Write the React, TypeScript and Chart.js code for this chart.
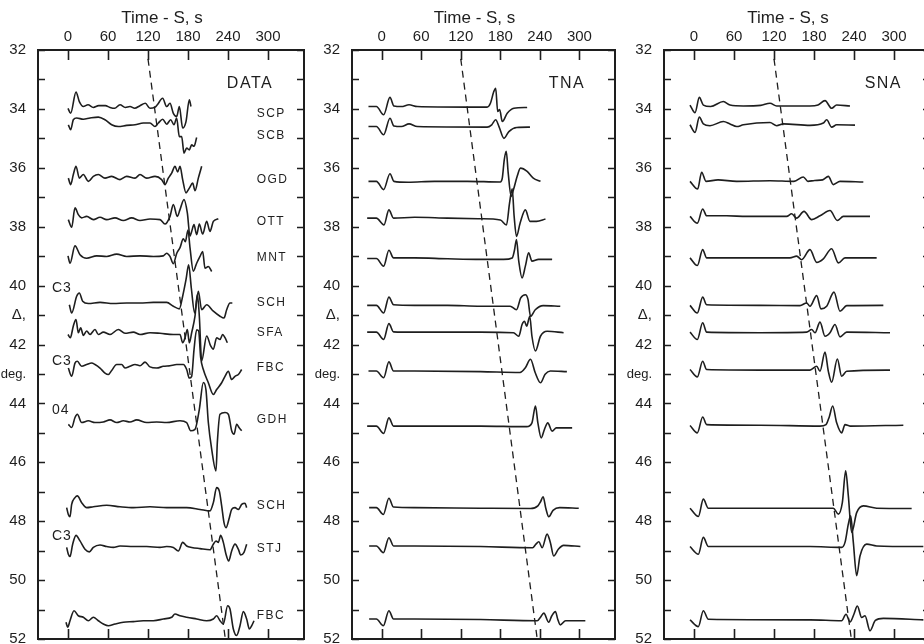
import React, { useEffect, useRef } from 'react';
import { Chart, registerables } from 'chart.js';

Chart.register(...registerables);

const INK = '#1e1e1e';
const FONT = "'Liberation Sans', Arial, sans-serif";

// ---------- axes ----------
const timeTicks = [0, 60, 120, 180, 240, 300];
const distanceTicks = [32, 33, 34, 35, 36, 37, 38, 39, 40, 41, 42, 43, 44, 45, 46, 47, 48, 49, 50, 51, 52];
const distanceWordLabels: Record<number, string> = { 41: 'Δ,', 43: 'deg.' };
const timeAxisTitle = 'Time - S, s';
const timeMin = -45;
const timeMax = 354;
const distMin = 32;
const distMax = 52;

// ---------- labels ----------
const panelNames = ['DATA', 'TNA', 'SNA'];
const stationNames = ['SCP', 'SCB', 'OGD', 'OTT', 'MNT', 'SCH', 'SFA', 'FBC', 'GDH', 'SCH', 'STJ', 'FBC'];
const stationLabelDeg = [34.17, 34.92, 36.41, 37.83, 39.05, 40.58, 41.59, 42.78, 44.54, 47.49, 48.92, 51.22];
const componentNames = ['C3', 'C3', '04', 'C3'];
const componentDeg = [40.07, 42.58, 44.24, 48.5];

// dashed S-phase reference line: [time, distance]
const sPhaseLine = [[120, 32.3], [236, 52]];

// ---------- baselines (epicentral distance, deg) ----------
const dataBaselines = [33.92, 34.54, 36.29, 37.76, 39.01, 40.59, 41.6, 42.74, 44.65, 47.54, 48.86, 51.32];
const tnaBaselines = [33.92, 34.6, 36.46, 37.71, 39.08, 40.67, 41.58, 42.9, 44.77, 47.54, 48.84, 51.32];
const snaBaselines = [33.9, 34.54, 36.46, 37.65, 39.06, 40.67, 41.58, 42.85, 44.75, 47.56, 48.86, 51.35];

// ---------- traces: [time s, amplitude deg (up positive)] ----------
const dataSCP = [[0,-0.06],[4,-0.23],[12,0.49],[17,0.17],[23,0],[30,0.06],[38,-0.03],[46,0.03],[56,0.03],[63,-0.03],[70,-0.06],[78,0.06],[86,-0.03],[93,0],[100,-0.06],[108,0.03],[116,0.11],[123,-0.06],[130,-0.03],[134,0.06],[142,0.28],[148,0],[153,0.11],[158,-0.23],[163,-0.34],[167,0],[172,-0.73],[177,-0.51],[182,0.23],[184.5,0]];
const dataSCB = [[0.5,0],[4,-0.17],[8,0.17],[13,0.23],[23,0.19],[33,0.23],[45.5,0.26],[55.5,0.17],[65.5,0],[75.5,-0.06],[88,-0.02],[100.5,0],[113,0.06],[123,0.06],[130.5,-0.06],[135.5,0.06],[142,0.19],[148,0.02],[154,0.17],[159,0],[163,0.23],[167,-0.4],[170.5,-0.4],[174,-0.96],[178,-0.79],[182,-0.85],[185.5,-0.68],[189,-0.73],[193,-0.43]];
const dataOGD = [[0.5,-0.06],[4,-0.28],[8,0.06],[12,0.34],[17,-0.06],[23,0.06],[30.5,-0.17],[38,0],[45.5,0.06],[55.5,-0.06],[65.5,0],[78,-0.11],[88,0],[100.5,-0.06],[108,0.06],[118,-0.06],[130.5,0],[140.5,-0.11],[145.5,-0.28],[150.5,-0.06],[155.5,0.11],[160.5,0.34],[164.5,0.15],[168,0.34],[172,-0.11],[177,-0.56],[182,-0.4],[187,-0.23],[190.5,-0.49],[195.5,-0.06],[200.5,0.34]];
const dataOTT = [[0.5,0],[5.5,-0.26],[10.5,0.4],[15.5,0.17],[20.5,0.06],[28,0.11],[38,0],[48,0.08],[58,0],[70.5,0.06],[83,-0.03],[95.5,0.06],[108,-0.03],[123,0.02],[138,0],[145.5,-0.15],[153,0.11],[158,0.51],[164,0.11],[168,0.34],[174,0.68],[179,0.23],[183,-0.56],[185.5,-0.4],[189,-0.17],[193,-0.51],[197,-0.15],[202,-0.49],[208,-0.06],[213,-0.4],[218,-0.06],[225.5,0.03]];
const dataMNT = [[0,0.02],[3,-0.23],[10.5,0.36],[18,0.06],[28,-0.06],[43,0.02],[58,0],[73,0.08],[88,0],[108,0.02],[128,0],[143,0.02],[148,0.11],[153,0],[158,-0.25],[163,0.1],[168,0.3],[173,0.6],[176,0.5],[180,0.9],[183,0.3],[188,-0.5],[193,-0.23],[198,0],[202,0.17],[205.5,-0.4],[210.5,-0.34],[215.5,-0.51]];
const dataSCH1 = [[2,-0.06],[5.5,-0.34],[13,0.23],[17,0.34],[22,0.06],[30.5,-0.02],[48,0.02],[68,-0.02],[88,0],[108,0],[128,0.02],[148,0.02],[158,-0.11],[167,-0.2],[172,0.23],[177,0.79],[181,1.3],[185,0.5],[190,-0.34],[195.5,0.4],[200.5,-0.23],[208,-0.06],[218,-0.28],[228,-0.45],[234,-0.51],[238,-0.23],[243,0],[246.5,0]];
const dataSFA = [[0,-0.06],[3.5,-0.17],[8,0.23],[12,0.45],[15.5,0],[19,0.17],[23,-0.09],[28,0.06],[33,-0.06],[40.5,0.11],[45.5,-0.06],[53,0.02],[63,-0.06],[75.5,0.11],[85.5,-0.02],[98,0.02],[108,-0.06],[123,0],[138,-0.02],[158,-0.06],[168,-0.06],[172,-0.34],[175.5,-0.17],[179,0.11],[182,-0.34],[185.5,0],[190.5,0.56],[194,1.3],[197,0.56],[200.5,-0.96],[208,-0.11],[214,-0.45],[218,-0.56],[223,-0.17],[228,-0.23],[232,-0.06],[235.5,-0.17],[239,-0.34]];
const dataFBC1 = [[0.5,-0.06],[5.5,-0.34],[10.5,0.11],[14,0.17],[20.5,0],[28,0.06],[35.5,0.11],[40.5,0.06],[48,-0.06],[55.5,-0.23],[60.5,-0.28],[65.5,-0.14],[73,0.06],[80.5,0.06],[85.5,-0.06],[93,0],[100.5,0.06],[108,0.02],[115.5,0.14],[123,-0.02],[133,-0.06],[143,0],[153,0.02],[163,0.06],[173,0.06],[178,-0.11],[182,-0.4],[185.5,-0.34],[189,0.56],[193,1.24],[196,1.2],[199,0.3],[203,-0.11],[210.5,-0.56],[218,-0.96],[223,-0.79],[230.5,-0.56],[235.5,-0.34],[240.5,-0.17],[245.5,-0.45],[250.5,-0.34],[255.5,-0.28],[260.5,-0.11]];
const dataGDH = [[0.5,-0.06],[5.5,-0.17],[10.5,0.17],[14,0.28],[20.5,0],[30.5,0.06],[40.5,0],[53,0.02],[63,0.09],[73,0],[83,0.06],[93,0.02],[103,0.09],[118,0],[133,0.02],[148,0],[168,0.06],[178,0],[184,-0.28],[190.5,-0.23],[197,0.45],[203,1.36],[207,1.1],[210.5,0],[215.5,-0.9],[222,-1.64],[224,-0.68],[228,0.28],[235.5,0.34],[240.5,0.28],[245.5,-0.28],[249,-0.4],[253,-0.06],[256.5,-0.17],[260.5,-0.28]];
const dataSCH2 = [[-2,0],[0.5,-0.23],[3,-0.31],[5.5,0.11],[10.5,0.34],[14,0.4],[20.5,0.17],[28,0],[38,0.03],[58,0.08],[78,0.03],[98,0],[123,0.03],[148,0],[178,0],[198,-0.06],[213,-0.11],[218,0.17],[223,0.68],[227,0.56],[230.5,0.06],[234,-0.51],[237,-0.68],[242,-0.34],[245.5,-0.06],[250.5,0],[255.5,-0.06],[260.5,0.11],[265.5,0.15],[268,0]];
const dataSTJ = [[-2,-0.03],[0.5,-0.26],[3,-0.34],[7,0.08],[12,0.38],[18,0.19],[25.5,-0.09],[32,-0.18],[38,-0.03],[48,0.05],[58,0],[68,-0.03],[78,0.02],[98,0],[118,0],[138,-0.03],[148,0],[158,-0.03],[165.5,-0.15],[172,0.14],[178,0.02],[185.5,-0.03],[198,-0.07],[213,-0.11],[218,0.08],[222,0.19],[225.5,0.14],[229,0.38],[233,0.14],[237,-0.26],[241,-0.49],[245.5,-0.15],[250.5,0.08],[255.5,-0.09],[259,-0.29],[264,-0.2],[268,0.08]];
const dataFBC2 = [[-3,-0.11],[-0.5,-0.28],[3,-0.06],[9,0.28],[15.5,0.11],[23,0.06],[30.5,-0.06],[38,0.06],[45.5,-0.06],[53,-0.17],[60.5,-0.23],[70.5,-0.17],[83,-0.11],[98,-0.09],[113,-0.06],[128,-0.06],[143,0],[155.5,0.06],[160.5,0.17],[168,0.11],[178,0.06],[193,0],[208,-0.06],[218,0],[223,0.11],[228,-0.06],[233,-0.17],[239.5,0.45],[243,0.34],[248,-0.34],[253,-0.56],[258,-0.23],[263,0.25],[268,0],[272,-0.34],[275.5,-0.23],[279,-0.06]];

const tna1 = [[-20,0],[-8,0],[3,-0.28],[12.6,0.31],[18.6,0.02],[30,0],[41.5,0.06],[54,0],[129,-0.02],[160,-0.02],[165,0.11],[170,0.5],[173,0.62],[176,-0.17],[179,-0.1],[183,-0.51],[190.5,-0.23],[200.6,-0.06],[220.7,-0.03]];
const tna2 = [[-20,0],[-8,0],[3,-0.28],[12.6,0.28],[18.6,0.02],[30,0],[41.5,0.09],[54,0],[160,-0.02],[167,0.06],[173,0.23],[178,0],[185.5,-0.4],[193,-0.17],[205,-0.03],[225,-0.02]];
const tna3 = [[-20,0],[-8,0],[3,-0.28],[12.6,0.26],[18.6,0],[40,-0.03],[80,0],[130,0],[180,-0.02],[183,0.11],[186,0.73],[189,1.02],[192,0.28],[196.5,-0.51],[200,-0.28],[205.6,0.17],[210.6,0.45],[220.7,0.34],[230,0.11],[241,0]];
const tna4 = [[-22,0],[-8,0],[3.5,-0.23],[11,0.28],[18,0],[50,0.03],[100,0],[150,-0.02],[180,-0.06],[189.4,-0.23],[194,0.51],[198,1.0],[201,0.06],[204.5,-0.62],[210,-0.17],[218,0.28],[225,-0.11],[235,-0.11],[248.5,-0.03]];
const tna5 = [[-22,0],[-8,0],[3,-0.26],[11,0.28],[18,0.02],[50,0.02],[100,-0.01],[150,-0.03],[185,-0.03],[198,0.02],[201.5,0.28],[204.5,0.64],[208,-0.09],[213,-0.66],[218,-0.26],[223,0.19],[228,-0.09],[238,-0.03],[258.6,-0.03]];
const tna6 = [[-22,0],[-8,0],[3,-0.26],[11,0.28],[18,0.02],[50,0],[100,0],[150,-0.03],[195,-0.03],[204.5,-0.15],[211,0.25],[218,0.36],[222,0.2],[225.8,-0.37],[233,-0.15],[245,-0.01],[271,-0.03]];
const tna7 = [[-22,0],[-8,0],[3,-0.25],[11,0.29],[18,0.01],[50,0],[150,0],[200,-0.02],[208,-0.14],[213,0.26],[216.7,0.37],[220,0.2],[224.7,0.54],[228,-0.14],[233.3,-0.64],[240.9,-0.14],[251,0.03],[276,-0.02]];
const tna8 = [[-20,0],[-8,0],[3,-0.23],[11,0.31],[18,0],[50,0],[150,-0.02],[210,-0.05],[218,0.11],[225.8,0.4],[233,-0.06],[241,-0.4],[248,-0.11],[256,0],[281,-0.02]];
const tna9 = [[-22,0],[-8,0],[3,-0.25],[11,0.28],[18,0],[50,0],[150,0],[220,-0.02],[228,0.11],[233.3,0.68],[237,0.11],[242,-0.4],[247,-0.11],[252,0.11],[258.6,-0.17],[265,-0.06],[289,-0.06]];
const tna10 = [[-19,0],[-8,0],[2.5,-0.23],[11,0.32],[18,0.02],[50,0],[150,-0.02],[226,-0.03],[237,0.06],[241,0.2],[245,0.37],[249,-0.02],[253.5,-0.31],[260,-0.09],[270,0],[299,-0.02]];
const tna11 = [[-19,0],[-8,0],[2.5,-0.23],[11,0.28],[18,0],[50,0],[150,-0.02],[229,-0.06],[234,0.06],[238.4,0.14],[243.5,-0.06],[251,0.4],[256,0.11],[261,-0.34],[268,-0.11],[276,0.02],[301.5,-0.02]];
const tna12 = [[-19,0],[-8,0],[2.5,-0.23],[11,0.28],[18,0],[50,0],[150,-0.02],[236,-0.06],[241,0.06],[246,0.2],[253.5,-0.11],[258,0.1],[263.6,0.25],[267,0],[271,-0.2],[279,-0.06],[309,-0.06]];

const sna1 = [[-6,0.03],[1.5,-0.23],[8,0.29],[14,0.03],[25,-0.02],[44,0.15],[54,0.03],[74,0],[100,0.02],[114,0.09],[124,0],[174,0],[186,0.03],[196.5,0.18],[206.5,-0.08],[214,0.03],[234,0]];
const sna2 = [[-6,0],[1.5,-0.26],[8,0.26],[14,0.03],[24,-0.03],[44,0.11],[54,0.03],[64,-0.06],[74,0],[114,0.08],[124,-0.03],[134,0.03],[174,-0.02],[194,0.06],[199,0.17],[206.5,-0.08],[214,0],[241.5,-0.01]];
const sna3 = [[-6,0],[5.5,-0.26],[11.5,0.31],[18,0],[36,0.05],[64,0],[114,0.02],[150,0],[164,0.15],[171,0],[181,0.03],[193,0.05],[201.5,0.17],[209,-0.11],[219,0],[254,-0.02]];
const sna4 = [[-6,0],[5,-0.23],[13,0.25],[19,0.02],[49,0.02],[79,0],[139,0],[146.5,0.09],[154,-0.06],[165,0.17],[176.5,-0.11],[189,0.02],[204,0.2],[215,-0.14],[224,0],[264,0]];
const sna5 = [[-6,0],[5,-0.26],[13,0.28],[19,0],[74,0],[144,0],[154,0.06],[161.5,-0.06],[174,0.28],[184,-0.15],[194,-0.03],[206.5,0.31],[216.5,-0.17],[226.5,0],[274,0]];
const sna6 = [[-6,0],[5,-0.26],[13,0.28],[19,0.02],[99,0],[159,-0.01],[169,0.08],[174,-0.03],[184,0.33],[190.5,-0.12],[199,-0.03],[210,0.45],[219,-0.2],[229,-0.01],[284,0]];
const sna7 = [[-6,0],[5,-0.25],[13,0.32],[19,0],[99,-0.02],[169,0],[176.5,0.09],[181.5,-0.02],[189,0.34],[196.5,-0.14],[204,-0.02],[211.5,0.26],[219,-0.16],[229,0],[294,-0.02]];
const sna8 = [[-6,0],[5,-0.25],[13,0.28],[19,0],[99,-0.02],[174,-0.02],[184,0.11],[189,-0.06],[196.5,0.59],[201.5,-0.06],[206.5,-0.43],[215,0.36],[221.5,-0.23],[229,-0.06],[294,-0.02]];
const sna9 = [[-6,0],[5,-0.25],[13,0.29],[19,0.03],[99,0.01],[189,-0.02],[198,0.03],[203,0.3],[208,0.66],[214,0.09],[221.5,-0.25],[226.5,0.03],[234,-0.02],[314,0.01]];
const sna10 = [[-6,0],[6.5,-0.28],[14,0.31],[21.5,0],[74,0],[209,0],[216.5,-0.2],[222.5,0.19],[227.5,1.27],[231.5,0.42],[236.5,-0.82],[244,-0.15],[254,0.08],[274,0],[326.5,-0.01]];
const sna11 = [[-6,0],[6.5,-0.26],[14,0.31],[21.5,0],[174,0],[221.5,-0.03],[226.5,0.14],[231.5,0.76],[235,1.04],[239,0.14],[244,-0.99],[249,-0.32],[259,0.08],[274,0.02],[344,0]];
const sna12 = [[-6,0],[6.5,-0.23],[14,0.31],[21.5,0.02],[174,0],[221.5,-0.03],[228,0.19],[234,-0.07],[240,0.2],[245,0.47],[251.5,0.08],[256.5,0.14],[264,-0.37],[272,-0.02],[284,0.05],[344,0]];

// ---------- layout (pixels; not data) ----------
const AXIS_W = 38;
const AXIS_H = 50;
const PAD_R = 16;
const PAD_B = 20;
const CANVAS_H = 660;
const TITLE_Y = 18;
const TITLE_SHIFT = -6;
const panelNameTime = [273, 281, 284];
const panelNameDeg = 33.13;
const stationLabelTime = 283;
const componentLabelTime = -24;

const panels = [
  { traces: [dataSCP, dataSCB, dataOGD, dataOTT, dataMNT, dataSCH1, dataSFA, dataFBC1, dataGDH, dataSCH2, dataSTJ, dataFBC2], baselines: dataBaselines, plotLeft: 38, plotWidth: 266, labelled: true },
  { traces: [tna1, tna2, tna3, tna4, tna5, tna6, tna7, tna8, tna9, tna10, tna11, tna12], baselines: tnaBaselines, plotLeft: 352, plotWidth: 263, labelled: false },
  { traces: [sna1, sna2, sna3, sna4, sna5, sna6, sna7, sna8, sna9, sna10, sna11, sna12], baselines: snaBaselines, plotLeft: 664, plotWidth: 266, labelled: false },
];

function makeFramePlugin(panelIndex: number, labelled: boolean) {
  return {
    id: 'frameAndLabels' + panelIndex,
    afterDatasetsDraw(chart: any) {
      const { ctx, chartArea } = chart;
      const { left, right, top, bottom } = chartArea;
      const xs = chart.scales.x;
      const ys = chart.scales.y;
      ctx.save();
      ctx.strokeStyle = INK;
      ctx.lineWidth = 2;
      ctx.strokeRect(left, top, right - left, bottom - top);
      ctx.lineWidth = 1.6;
      ctx.beginPath();
      xs.ticks.forEach((t: any) => {
        const px = Math.round(xs.getPixelForValue(t.value)) + 0.5;
        ctx.moveTo(px, top); ctx.lineTo(px, top + 10);
        ctx.moveTo(px, bottom); ctx.lineTo(px, bottom - 10);
      });
      ys.ticks.forEach((t: any) => {
        const py = Math.round(ys.getPixelForValue(t.value)) + 0.5;
        ctx.moveTo(left, py); ctx.lineTo(left + 7, py);
        ctx.moveTo(right, py); ctx.lineTo(right - 7, py);
      });
      ctx.stroke();

      ctx.fillStyle = INK;
      ctx.textBaseline = 'middle';
      ctx.textAlign = 'center';

      // axis title centred over the labelled tick range
      ctx.font = `17px ${FONT}`;
      const firstPx = xs.getPixelForValue(timeTicks[0]);
      const lastPx = xs.getPixelForValue(timeTicks[timeTicks.length - 1]);
      ctx.fillText(timeAxisTitle, (firstPx + lastPx) / 2 + TITLE_SHIFT, TITLE_Y);

      ctx.font = `16px ${FONT}`;
      (ctx as any).letterSpacing = '1.5px';
      ctx.fillText(panelNames[panelIndex], xs.getPixelForValue(panelNameTime[panelIndex]), ys.getPixelForValue(panelNameDeg));

      if (labelled) {
        ctx.textAlign = 'left';
        ctx.font = `12px ${FONT}`;
        (ctx as any).letterSpacing = '1.5px';
        stationNames.forEach((s, i) => {
          ctx.fillText(s, xs.getPixelForValue(stationLabelTime), ys.getPixelForValue(stationLabelDeg[i]));
        });
        ctx.font = `14px ${FONT}`;
        (ctx as any).letterSpacing = '1px';
        componentNames.forEach((c, i) => {
          ctx.fillText(c, xs.getPixelForValue(componentLabelTime), ys.getPixelForValue(componentDeg[i]));
        });
      }
      ctx.restore();
    },
  };
}

function Panel({ index }: { index: number }) {
  const ref = useRef<HTMLCanvasElement | null>(null);
  const p = panels[index];
  const canvasW = AXIS_W + p.plotWidth + PAD_R;
  const canvasLeft = p.plotLeft - AXIS_W;

  useEffect(() => {
    if (!ref.current) return;
    const datasets: any[] = p.traces.map((tr, i) => ({
      data: tr.map(([t, a]) => ({ x: t, y: p.baselines[i] - a })),
      borderColor: INK,
      borderWidth: 1.6,
      pointRadius: 0,
      fill: false,
      cubicInterpolationMode: 'monotone',
    }));
    datasets.push({
      data: sPhaseLine.map(([t, d]) => ({ x: t, y: d })),
      borderColor: INK,
      borderWidth: 1.3,
      borderDash: [7, 5],
      pointRadius: 0,
      fill: false,
    });

    const chart = new Chart(ref.current, {
      type: 'line',
      data: { datasets },
      options: {
        responsive: false,
        animation: false,
        devicePixelRatio: 1,
        events: [],
        layout: { padding: { left: 0, right: PAD_R, top: 0, bottom: PAD_B } },
        plugins: { legend: { display: false }, tooltip: { enabled: false } },
        scales: {
          x: {
            type: 'linear',
            position: 'top',
            min: timeMin,
            max: timeMax,
            afterFit: (s: any) => { s.height = AXIS_H; },
            afterBuildTicks: (s: any) => { s.ticks = timeTicks.map((v) => ({ value: v })); },
            grid: { display: false, drawTicks: false, tickLength: 0 },
            border: { display: false },
            ticks: {
              padding: 4,
              color: INK,
              font: { family: FONT, size: 15 },
              maxRotation: 0,
              autoSkip: false,
              callback: (v: any) => String(v),
            },
            title: { display: false },
          },
          y: {
            type: 'linear',
            position: 'left',
            min: distMin,
            max: distMax,
            reverse: true,
            afterFit: (s: any) => { s.width = AXIS_W; },
            afterBuildTicks: (s: any) => { s.ticks = distanceTicks.map((v) => ({ value: v })); },
            grid: { display: false, drawTicks: false, tickLength: 0 },
            border: { display: false },
            ticks: {
              padding: 12,
              color: INK,
              font: (c: any) => ({ family: FONT, size: c.tick && c.tick.value === 43 ? 13 : 15 }),
              autoSkip: false,
              callback: (v: any) => (v % 2 === 0 ? String(v) : (distanceWordLabels[v] ?? '')),
            },
          },
        },
      } as any,
      plugins: [makeFramePlugin(index, p.labelled)],
    });
    return () => chart.destroy();
  }, []);

  return (
    <canvas
      ref={ref}
      width={canvasW}
      height={CANVAS_H}
      style={{ position: 'absolute', left: canvasLeft, top: 0, width: canvasW, height: CANVAS_H }}
    />
  );
}

export default function App() {
  return (
    <div style={{ position: 'absolute', left: 0, top: 0, width: 924, height: 644, overflow: 'hidden', background: '#fff' }}>
      {panels.map((_, i) => (
        <Panel key={i} index={i} />
      ))}
    </div>
  );
}
